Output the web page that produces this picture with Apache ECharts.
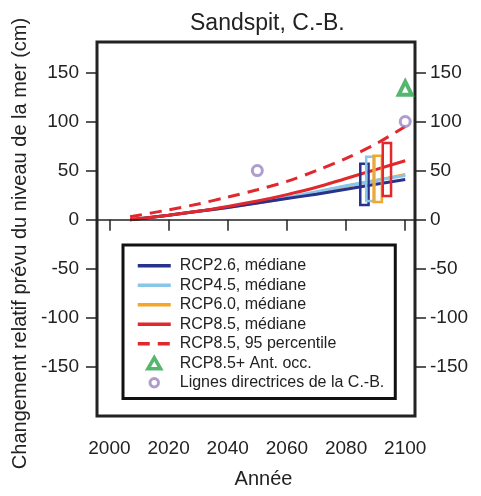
<!DOCTYPE html>
<html>
<head>
<meta charset="utf-8">
<script src="https://cdn.jsdelivr.net/npm/echarts@6/dist/echarts.min.js"></script>
<style>
  html, body { margin: 0; padding: 0; background: #fff; }
  #main { width: 481px; height: 496px; }
</style>
</head>
<body>
<div id="main"></div>
<script>
var years = [2007, 2020, 2030, 2040, 2050, 2060, 2070, 2080, 2090, 2100]
var rcp26 = [0, 4.5, 8.5, 12.5, 17, 21.5, 26, 31, 36, 41]
var rcp45 = [0, 4.5, 8.5, 13, 17.5, 22.5, 28.5, 34.5, 40, 45]
var rcp60 = [0, 4.5, 8.5, 12.5, 17, 22, 28, 34, 40, 46]
var rcp85 = [0, 4.5, 8.5, 13.5, 19, 25.5, 33, 42, 51, 60]
var rcp85p95 = [3, 10, 16, 23, 30.5, 39, 50, 62.5, 77, 95]
// [year, low, high] of the range boxes
var box26 = [[2086.2, 15, 57]]
var box45 = [[2088.2, 19, 64]]
var box60 = [[2090.7, 18, 65]]
var box85 = [[2093.8, 24, 78]]
var antOcc = [[2100, 134]]
var bcGuide = [[2050, 50], [2100, 100]]
var xTicks = [2000, 2020, 2040, 2060, 2080, 2100]
var yTicks = [-150, -100, -50, 0, 50, 100, 150]

var font = 'Liberation Sans'
var colors = {
  rcp26: '#28318c',
  rcp45: '#88c6ea',
  rcp60: '#f4a629',
  rcp85: '#e2272d',
  ant: '#2ba44a',
  bc: '#9a85c1'
}

function pairs (ys) {
  return years.map(function (y, i) { return [y, ys[i]] })
}

function boxSeries (name, data, color) {
  return {
    name: name,
    type: 'custom',
    data: data,
    z: 4,
    renderItem: function (params, api) {
      var p1 = api.coord([api.value(0) - 1.4, api.value(2)])
      var p2 = api.coord([api.value(0) + 1.4, api.value(1)])
      return {
        type: 'rect',
        shape: { x: p1[0], y: p1[1], width: p2[0] - p1[0], height: p2[1] - p1[1] },
        style: { fill: 'none', stroke: color, lineWidth: 2.5 }
      }
    }
  }
}

function lineSeries (name, ys, color, dashed) {
  return {
    name: name,
    type: 'line',
    data: pairs(ys),
    symbol: 'none',
    smooth: 0.3,
    z: 3,
    lineStyle: { color: color, width: 3, type: dashed ? [12, 8] : 'solid' },
    itemStyle: { color: color }
  }
}

// legend entry for a line: hide the marker, keep the stroke
function lineLegend (name) {
  return {
    name: name,
    lineStyle: { width: 3.5 },
    itemStyle: { color: 'rgba(0,0,0,0)', borderColor: 'rgba(0,0,0,0)', borderWidth: 0, opacity: 0 }
  }
}

var yAxisBase = {
  type: 'value',
  min: -200,
  max: 181,
  splitLine: { show: false },
  axisLine: { show: false },
  axisTick: { show: true, length: 11, customValues: yTicks, lineStyle: { color: '#222', width: 1.5 } },
  axisLabel: { customValues: yTicks, fontFamily: font, fontSize: 19, color: '#222' }
}

var chart = echarts.init(document.getElementById('main'))
chart.setOption({
  animation: false,
  textStyle: { fontFamily: font },
  title: {
    text: 'Sandspit, C.-B.',
    left: 185,
    top: 7,
    textStyle: { fontFamily: font, fontSize: 23, fontWeight: 'normal', color: '#222' }
  },
  grid: {
    left: 97,
    right: 66,
    top: 42,
    bottom: 80,
    show: true,
    borderColor: '#222',
    borderWidth: 3,
    backgroundColor: 'transparent'
  },
  legend: {
    orient: 'vertical',
    left: 123,
    top: 245,
    padding: [11, 11, 6, 13],
    borderColor: '#111',
    borderWidth: 3,
    itemWidth: 33,
    itemHeight: 11,
    itemGap: 0,
    selectedMode: false,
    textStyle: { fontFamily: font, fontSize: 16, color: '#222', lineHeight: 19.5, padding: [0, 0, 0, 4] },
    data: [
      lineLegend('RCP2.6, médiane'),
      lineLegend('RCP4.5, médiane'),
      lineLegend('RCP6.0, médiane'),
      lineLegend('RCP8.5, médiane'),
      lineLegend('RCP8.5, 95 percentile'),
      {
        name: 'RCP8.5+ Ant. occ.',
        icon: 'path://M5,0 L10,8.66 L0,8.66 Z',
        itemStyle: { color: '#fff', borderColor: colors.ant, borderWidth: 3.5 }
      },
      {
        name: 'Lignes directrices de la C.-B.',
        icon: 'path://M-1.5,-1.5 M11.5,11.5 M5,0 A5,5 0 1 1 4.99,0 Z',
        itemStyle: { color: '#fff', borderColor: colors.bc, borderWidth: 3 }
      }
    ]
  },
  xAxis: {
    type: 'value',
    min: 1995.8,
    max: 2103.3,
    name: 'Année',
    nameLocation: 'middle',
    nameGap: 53,
    nameTextStyle: { fontFamily: font, fontSize: 20, color: '#222', padding: [0, 0, 0, 15] },
    splitLine: { show: false },
    axisLine: { show: false },
    axisTick: { show: true, length: 11, customValues: xTicks, lineStyle: { color: '#222', width: 1.5 } },
    axisLabel: {
      customValues: xTicks,
      margin: 23,
      fontFamily: font,
      fontSize: 19,
      color: '#222',
      formatter: function (v) { return String(v) }
    }
  },
  yAxis: [
    Object.assign({}, yAxisBase, {
      position: 'left',
      name: 'Changement relatif prévu du niveau de la mer (cm)',
      nameLocation: 'middle',
      nameGap: 64,
      nameTextStyle: { fontFamily: font, fontSize: 20, color: '#222', padding: [0, 29, 0, 0] },
      axisLabel: Object.assign({}, yAxisBase.axisLabel, { margin: 18 })
    }),
    Object.assign({}, yAxisBase, {
      position: 'right',
      axisLabel: Object.assign({}, yAxisBase.axisLabel, { margin: 15 })
    })
  ],
  series: [
    Object.assign(lineSeries('RCP6.0, médiane', rcp60, colors.rcp60, false), {
      markLine: {
        silent: true,
        symbol: 'none',
        label: { show: false },
        lineStyle: { color: '#222', width: 1.5, type: 'solid' },
        data: [{ yAxis: 0 }]
      }
    }),
    lineSeries('RCP4.5, médiane', rcp45, colors.rcp45, false),
    lineSeries('RCP2.6, médiane', rcp26, colors.rcp26, false),
    lineSeries('RCP8.5, médiane', rcp85, colors.rcp85, false),
    lineSeries('RCP8.5, 95 percentile', rcp85p95, colors.rcp85, true),
    boxSeries('box26', box26, colors.rcp26),
    boxSeries('box45', box45, colors.rcp45),
    boxSeries('box60', box60, colors.rcp60),
    boxSeries('box85', box85, colors.rcp85),
    {
      name: 'RCP8.5+ Ant. occ.',
      type: 'scatter',
      data: antOcc,
      symbol: 'triangle',
      symbolSize: 13,
      z: 5,
      itemStyle: { color: '#fff', borderColor: colors.ant, borderWidth: 4 }
    },
    {
      name: 'Lignes directrices de la C.-B.',
      type: 'scatter',
      data: bcGuide,
      symbol: 'circle',
      symbolSize: 10,
      z: 5,
      itemStyle: { color: '#fff', borderColor: colors.bc, borderWidth: 3 }
    }
  ]
})
</script>
</body>
</html>
